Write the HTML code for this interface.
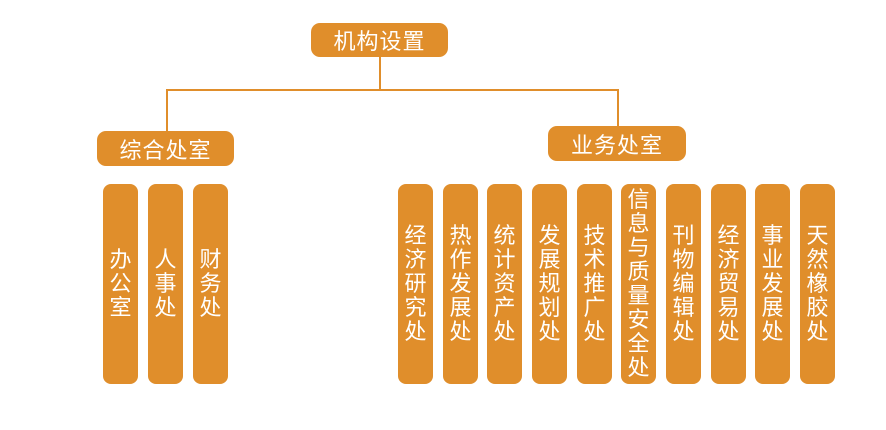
<!DOCTYPE html>
<html><head><meta charset="utf-8"><style>
body{margin:0;width:886px;height:430px;background:#fff;position:relative;overflow:hidden;font-family:"Liberation Sans","Noto Sans CJK SC",sans-serif;}
.b{position:absolute;background:#E08E2B;color:#fff;border-radius:9px;display:flex;align-items:center;justify-content:center;}
.h{font-size:22px;letter-spacing:1px;}
.v{width:35px;top:184px;height:200px;border-radius:8px;font-size:22px;line-height:24px;text-align:center;}
.v span{display:block;width:22px;word-wrap:break-word;}
.l{position:absolute;background:#E08E2B;}
</style></head><body>
<div class="l" style="left:379px;top:56px;width:2px;height:35px"></div>
<div class="l" style="left:166px;top:89px;width:453px;height:2px"></div>
<div class="l" style="left:166px;top:89px;width:2px;height:43px"></div>
<div class="l" style="left:617px;top:89px;width:2px;height:38px"></div>
<div class="b h" style="left:311px;top:23px;width:137px;height:34px">机构设置</div>
<div class="b h" style="left:97px;top:131px;width:137px;height:35px">综合处室</div>
<div class="b h" style="left:548px;top:126px;width:138px;height:35px">业务处室</div>
<div class="b v" style="left:103px"><span>办公室</span></div>
<div class="b v" style="left:148px"><span>人事处</span></div>
<div class="b v" style="left:193px"><span>财务处</span></div>
<div class="b v" style="left:398px"><span>经济研究处</span></div>
<div class="b v" style="left:443px"><span>热作发展处</span></div>
<div class="b v" style="left:487px"><span>统计资产处</span></div>
<div class="b v" style="left:532px"><span>发展规划处</span></div>
<div class="b v" style="left:577px"><span>技术推广处</span></div>
<div class="b v" style="left:621px"><span>信息与质量安全处</span></div>
<div class="b v" style="left:666px"><span>刊物编辑处</span></div>
<div class="b v" style="left:711px"><span>经济贸易处</span></div>
<div class="b v" style="left:755px"><span>事业发展处</span></div>
<div class="b v" style="left:800px"><span>天然橡胶处</span></div>
</body></html>
